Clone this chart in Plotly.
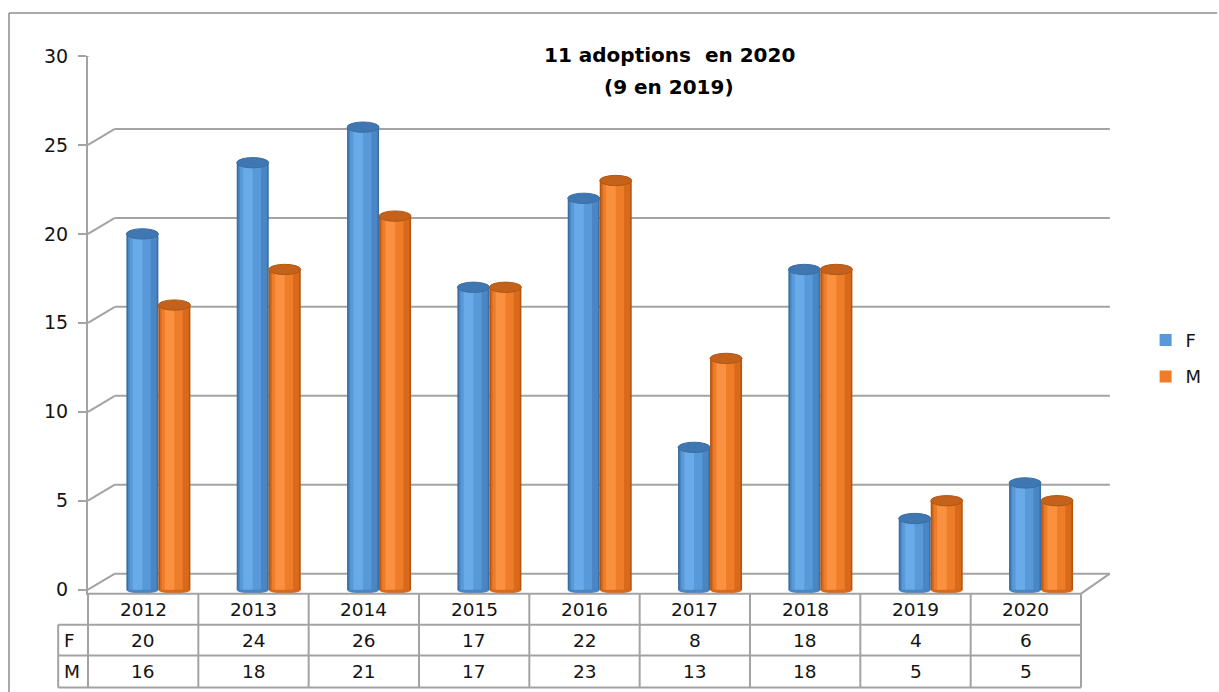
import plotly.graph_objects as go

# ---------------- data ----------------
years = ["2012", "2013", "2014", "2015", "2016", "2017", "2018", "2019", "2020"]
f_vals = [20, 24, 26, 17, 22, 8, 18, 4, 6]
m_vals = [16, 18, 21, 17, 23, 13, 18, 5, 5]
y_ticks = [0, 5, 10, 15, 20, 25, 30]
series_names = ["F", "M"]
title_line1 = "11 adoptions  en 2020"
title_line2 = "(9 en 2019)"

# ---------------- geometry helpers (screen pixel targets) ----------------
W, H = 1219, 692
PLOT_L, PLOT_R = 88, 1087          # x of plot area
Y0_PX = 590.0                       # y of value 0
PX_PER_UNIT = 17.8
Y_MIN = -0.3
Y_MAX = 30
PLOT_T = Y0_PX - Y_MAX * PX_PER_UNIT
PLOT_BOTTOM = Y0_PX - Y_MIN * PX_PER_UNIT
PW = PLOT_R - PLOT_L
PH = PLOT_BOTTOM - PLOT_T
M_L = PLOT_L
M_T = PLOT_T
M_R = W - PLOT_R
M_B = H - PLOT_BOTTOM


def px(xp):
    return (xp - PLOT_L) / PW


def py(yp):
    return (PLOT_BOTTOM - yp) / PH


DEPTH_DX = 27  # px
DEPTH_DY = 16 / PX_PER_UNIT  # data units
BACK_RIGHT = 1116
COL_W = PW / len(years)
GRID = "#A3A3A3"
FONT = "DejaVu Sans"
TXT = "#141414"

styles = {
    "F": dict(layers=["#3B6DA2", "#4A86C4", "#5799D9", "#68ABE8"], cap="#3F77B2",
              offset=-0.152),
    "M": dict(layers=["#B4560F", "#D96A1C", "#EE7D2A", "#FA9140"], cap="#C4611B",
              offset=0.138),
}
# (relative start, relative width) of each shading layer inside a cylinder
layer_geom = [(0.0, 1.0), (0.05, 0.9), (0.1, 0.66), (0.2, 0.3)]
LEGEND_LAYER = 2
BW = 0.29
values = {"F": f_vals, "M": m_vals}
xs = list(range(len(years)))

fig = go.Figure()
shapes = []
annotations = []

# back-wall gridlines with perspective diagonals
for v in y_ticks:
    shapes.append(dict(type="line", xref="paper", yref="y", x0=px(PLOT_L), y0=v,
                       x1=px(PLOT_L + DEPTH_DX), y1=v + DEPTH_DY,
                       line=dict(color=GRID, width=2), layer="below"))
    shapes.append(dict(type="line", xref="paper", yref="y", x0=px(PLOT_L + DEPTH_DX),
                       y0=v + DEPTH_DY, x1=px(BACK_RIGHT), y1=v + DEPTH_DY,
                       line=dict(color=GRID, width=2), layer="below"))

# floor right diagonal
shapes.append(dict(type="line", xref="paper", yref="paper", x0=px(PLOT_R),
                   y0=py(594), x1=px(BACK_RIGHT), y1=py(Y0_PX - 16),
                   line=dict(color=GRID, width=2)))

# cylinders
for name in series_names:
    st = styles[name]
    vals = values[name]
    off = st["offset"]
    for li, ((rs, rw), col) in enumerate(zip(layer_geom, st["layers"])):
        is_leg = li == LEGEND_LAYER
        fig.add_trace(go.Bar(x=xs, y=vals, offset=off + BW * rs, width=BW * rw,
                             marker=dict(color=col, line=dict(width=0)),
                             name=name, showlegend=is_leg, legendgroup=name,
                             hoverinfo="x+y" if is_leg else "skip"))
    for i, v in zip(xs, vals):
        shapes.append(dict(type="circle", xref="x", yref="y",
                           x0=i + off, x1=i + off + BW, y0=v - 0.29, y1=v + 0.29,
                           fillcolor=st["cap"], line=dict(color=st["layers"][0], width=1)))
        shapes.append(dict(type="circle", xref="x", yref="y",
                           x0=i + off, x1=i + off + BW, y0=-0.22, y1=0.22,
                           fillcolor=st["layers"][1], line=dict(width=0), layer="below"))

# data table
row_lines_px = [625, 656, 688]
shapes.append(dict(type="line", xref="paper", yref="paper", x0=px(PLOT_L), x1=px(PLOT_R),
                   y0=py(594), y1=py(594), line=dict(color=GRID, width=2)))
for yl in row_lines_px:
    shapes.append(dict(type="line", xref="paper", yref="paper", x0=px(58), x1=px(PLOT_R),
                       y0=py(yl), y1=py(yl), line=dict(color=GRID, width=2)))
shapes.append(dict(type="line", xref="paper", yref="paper", x0=px(58), x1=px(58),
                   y0=py(625), y1=py(688), line=dict(color=GRID, width=2)))
for k in range(len(years) + 1):
    xl = PLOT_L + COL_W * k
    shapes.append(dict(type="line", xref="paper", yref="paper", x0=px(xl), x1=px(xl),
                       y0=py(594), y1=py(688), line=dict(color=GRID, width=2)))

row_centers = {"hdr": 610, "F": 641, "M": 672}
for k, yr in enumerate(years):
    cx = PLOT_L + COL_W * (k + 0.5)
    annotations.append(dict(x=px(cx), y=py(row_centers["hdr"]), xref="paper", yref="paper",
                            text=yr, showarrow=False, xanchor="center", yanchor="middle",
                            font=dict(family=FONT, size=18.5, color=TXT)))
    for name in series_names:
        annotations.append(dict(x=px(cx), y=py(row_centers[name]), xref="paper", yref="paper",
                                text=str(values[name][k]), showarrow=False,
                                xanchor="center", yanchor="middle",
                                font=dict(family=FONT, size=18.5, color=TXT)))
for name in series_names:
    annotations.append(dict(x=px(62), y=py(row_centers[name]), xref="paper", yref="paper",
                            text=name, showarrow=False, xanchor="left", yanchor="middle",
                            font=dict(family=FONT, size=18.5, color=TXT)))

# title
annotations.append(dict(x=px(673), y=py(55), xref="paper", yref="paper", text="<b>" + title_line1 + "</b>",
                        showarrow=False, xanchor="center", yanchor="middle",
                        font=dict(family=FONT, size=20, color="#000")))
annotations.append(dict(x=px(673), y=py(87), xref="paper", yref="paper", text="<b>" + title_line2 + "</b>",
                        showarrow=False, xanchor="center", yanchor="middle",
                        font=dict(family=FONT, size=20, color="#000")))

# outer chart border (left and top)
shapes.append(dict(type="line", xref="paper", yref="paper", x0=px(8.5), x1=px(8.5),
                   y0=py(13), y1=py(H + 5), line=dict(color="#8C8C8C", width=1.5)))
shapes.append(dict(type="line", xref="paper", yref="paper", x0=px(8.5), x1=px(W + 5),
                   y0=py(13), y1=py(13), line=dict(color="#8C8C8C", width=1.5)))

fig.update_layout(
    width=W, height=H,
    margin=dict(l=M_L, r=M_R, t=M_T, b=M_B, pad=0),
    paper_bgcolor="white", plot_bgcolor="rgba(0,0,0,0)",
    barmode="overlay",
    showlegend=True,
    legend=dict(x=px(1152), y=py(322), xanchor="left", yanchor="top",
                font=dict(family=FONT, size=18, color=TXT),
                traceorder="grouped", tracegroupgap=10, itemwidth=30,
                bgcolor="rgba(0,0,0,0)"),
    xaxis=dict(range=[-0.5, len(years) - 0.5], showgrid=False, zeroline=False,
               showticklabels=False, ticks="", showline=False, fixedrange=True),
    yaxis=dict(range=[Y_MIN, Y_MAX], tickvals=y_ticks, showgrid=False, zeroline=False,
               showline=True, linecolor=GRID, linewidth=2, ticks="outside", ticklen=8,
               tickcolor=GRID, tickwidth=2, ticklabelstandoff=6,
               tickfont=dict(family=FONT, size=19, color=TXT)),
    shapes=shapes,
    annotations=annotations,
    font=dict(family=FONT),
)

fig.write_html(
    "out.html",
    config={"displayModeBar": False},
    post_script="document.body.style.margin='0';document.body.style.overflow='hidden';",
)
